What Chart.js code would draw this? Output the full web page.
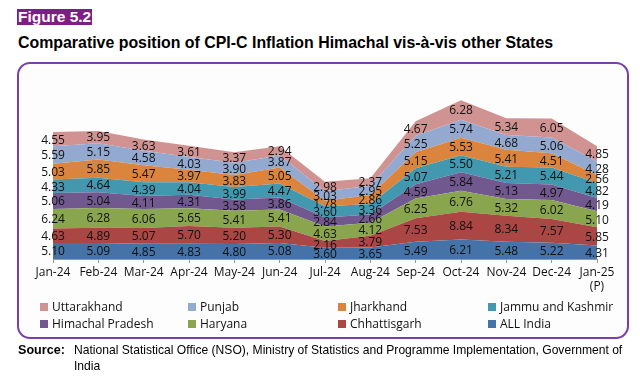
<!DOCTYPE html>
<html>
<head>
<meta charset="utf-8">
<script src="https://cdn.jsdelivr.net/npm/chart.js@4"></script>
<style>
  html, body { margin:0; padding:0; background:#fff; }
  #wrap { position:relative; width:640px; height:383px; overflow:hidden; font-family:"Liberation Sans", Arial, sans-serif; }
  #fig { position:absolute; left:17px; top:9px; height:16px; line-height:16px; padding:0 1px; background:#7E1E82; color:#fff; font-weight:bold; font-size:15.5px; }
  #title { position:absolute; left:18px; top:34px; line-height:18px; font-weight:bold; font-size:15.9px; color:#000; white-space:nowrap; }
  #box { position:absolute; left:17px; top:62px; width:608px; height:273px; border:2px solid #7B3FA8; border-radius:13px; background:#fdfdfd; }
  #chartWrap { position:absolute; left:0; top:0; width:640px; height:383px; }
  #legend { position:absolute; left:0; top:0; width:640px; height:383px; font-family:"Open Sans", sans-serif; font-size:12px; color:#111; }
  .li { position:absolute; white-space:nowrap; height:16px; line-height:16px; }
  .sw { display:inline-block; width:8px; height:8px; margin-right:4px; vertical-align:0px; }
  #src { position:absolute; left:18px; top:342px; font-size:12.1px; color:#000; }
  #src b { position:absolute; left:0; top:0; font-size:12.6px; line-height:16px; }
  #src span { position:absolute; left:56px; top:0; width:558px; line-height:16px; }
</style>
</head>
<body>
<div id="wrap">
  <div id="fig">Figure 5.2</div>
  <div id="title">Comparative position of CPI-C Inflation Himachal vis-à-vis other States</div>
  <div id="box"></div>
  <div id="chartWrap"><canvas id="c" width="640" height="383"></canvas></div>
  <div id="legend"></div>
  <div id="src"><b>Source:</b><span>National Statistical Office (NSO), Ministry of Statistics and Programme Implementation, Government of India</span></div>
</div>
<script>
const months = ["Jan-24","Feb-24","Mar-24","Apr-24","May-24","Jun-24","Jul-24","Aug-24","Sep-24","Oct-24","Nov-24","Dec-24",["Jan-25","(P)"]];

const allIndia     = [5.10,5.09,4.85,4.83,4.80,5.08,3.60,3.65,5.49,6.21,5.48,5.22,4.31];
const chhattisgarh = [4.63,4.89,5.07,5.70,5.20,5.30,2.16,3.79,7.53,8.84,8.34,7.57,5.85];
const haryana      = [6.24,6.28,6.06,5.65,5.41,5.41,4.63,4.12,6.25,6.76,5.32,6.02,5.10];
const himachal     = [5.06,5.04,4.11,4.31,3.58,3.86,2.84,2.66,4.59,5.84,5.13,4.97,4.19];
const jammuKashmir = [4.33,4.64,4.39,4.04,3.99,4.47,3.60,3.36,5.07,5.50,5.21,5.44,4.82];
const jharkhand    = [5.03,5.85,5.47,3.97,3.83,5.05,1.78,2.86,5.15,5.53,5.41,4.51,2.56];
const punjab       = [5.59,5.15,4.58,4.03,3.90,3.87,3.03,2.95,5.25,5.74,4.68,5.06,4.28];
const uttarakhand  = [4.55,3.95,3.63,3.61,3.37,2.94,2.98,2.37,4.67,6.28,5.34,6.05,4.85];

const seriesNames  = ["ALL India","Chhattisgarh","Haryana","Himachal Pradesh","Jammu and Kashmir","Jharkhand","Punjab","Uttarakhand"];
const seriesValues = [allIndia, chhattisgarh, haryana, himachal, jammuKashmir, jharkhand, punjab, uttarakhand];
const seriesColors = ["#4572A7","#AA4643","#89A54E","#71588F","#4198AF","#DB843D","#93A9CF","#D19392"];

const datasets = seriesNames.map((n, i) => ({
  label: n,
  data: seriesValues[i],
  backgroundColor: seriesColors[i],
  borderColor: seriesColors[i],
  borderWidth: 0,
  pointRadius: 0,
  tension: 0,
  fill: i === 0 ? 'origin' : '-1'
}));

const labelPlugin = {
  id: 'bandLabels',
  afterDatasetsDraw(chart) {
    const ctx = chart.ctx;
    ctx.save();
    ctx.font = '12px "Open Sans", sans-serif';
    ctx.fillStyle = '#111';
    ctx.textAlign = 'center';
    ctx.textBaseline = 'middle';
    const base = chart.scales.y.getPixelForValue(0);
    chart.data.datasets.forEach((ds, di) => {
      const meta = chart.getDatasetMeta(di);
      const prev = di > 0 ? chart.getDatasetMeta(di - 1) : null;
      meta.data.forEach((pt, j) => {
        const lower = prev ? prev.data[j].y : base;
        const yMid = (pt.y + lower) / 2;
        ctx.fillText(ds.data[j].toFixed(2), pt.x, yMid + 1);
      });
    });
    ctx.restore();
  }
};

new Chart(document.getElementById('c'), {
  type: 'line',
  data: { labels: months, datasets },
  options: {
    responsive: false,
    animation: false,
    layout: { padding: { left: 53, right: 43, top: 71, bottom: 84 } },
    plugins: { legend: { display: false }, tooltip: { enabled: false } },
    scales: {
      x: {
        offset: false,
        grid: { display: true, drawOnChartArea: false, drawTicks: true, tickLength: 4, color: '#9a9a9a' },
        border: { display: true, color: '#9a9a9a' },
        ticks: { color: '#111', font: { family: '"Open Sans", sans-serif', size: 12 }, padding: 2, maxRotation: 0, autoSkip: false },
        afterFit(scale) { scale.height = 40; }
      },
      y: {
        display: false,
        stacked: true,
        min: 0,
        max: 60
      }
    }
  },
  plugins: [labelPlugin]
});

// legend (reverse order, 4 columns x 2 rows)
const leg = document.getElementById('legend');
const colX = [40, 188, 338, 488];
const rowY = [299, 316];
for (let k = 0; k < seriesNames.length; k++) {
  const i = seriesNames.length - 1 - k;
  const el = document.createElement('div');
  el.className = 'li';
  el.style.left = colX[k % 4] + 'px';
  el.style.top = rowY[Math.floor(k / 4)] + 'px';
  el.innerHTML = '<span class="sw" style="background:' + seriesColors[i] + '"></span>' + seriesNames[i];
  leg.appendChild(el);
}
</script>
</body>
</html>
